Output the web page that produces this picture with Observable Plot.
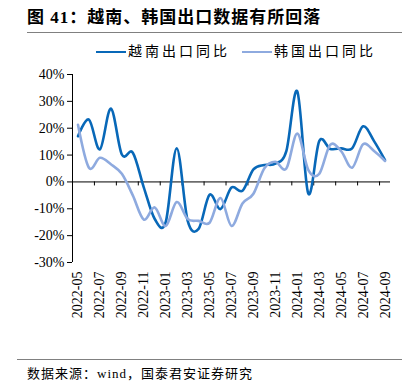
<!DOCTYPE html>
<html><head><meta charset="utf-8">
<script src="https://cdn.jsdelivr.net/npm/d3@7"></script>
<script src="https://cdn.jsdelivr.net/npm/@observablehq/plot@0.6"></script>
<style>
body{margin:0;background:#fff;}
#wrap{position:relative;width:415px;height:388px;overflow:hidden;font-family:"Liberation Serif","Noto Sans CJK SC",serif;color:#000;}
#title{position:absolute;left:27px;top:8px;font-size:17px;font-weight:bold;letter-spacing:1px;line-height:20px;white-space:nowrap;}
.rule{position:absolute;height:0;border-top:1px solid #808080;}
#legend{position:absolute;top:44px;left:96px;font-size:14px;line-height:16px;white-space:nowrap;display:flex;}
.item{display:flex;align-items:center;letter-spacing:3px;}
.sw{display:inline-block;width:30px;height:0;border-top:2.5px solid;margin-right:2px;}
#chart{position:absolute;left:0;top:62px;}
#source{position:absolute;left:27px;top:366px;font-size:13px;letter-spacing:1px;line-height:16px;white-space:nowrap;}
</style>
</head><body>
<div id="wrap">
  <div id="title">图 41：越南、韩国出口数据有所回落</div>
  <div class="rule" style="left:27px;top:32px;width:375px;"></div>
  <div id="legend"></div>
  <div id="chart"></div>
  <div class="rule" style="left:17px;top:359px;width:385px;"></div>
  <div id="source">数据来源：wind，国泰君安证券研究</div>
</div>
<script>
const months = ["2022-05","2022-06","2022-07","2022-08","2022-09","2022-10","2022-11","2022-12",
  "2023-01","2023-02","2023-03","2023-04","2023-05","2023-06","2023-07","2023-08","2023-09","2023-10","2023-11","2023-12",
  "2024-01","2024-02","2024-03","2024-04","2024-05","2024-06","2024-07","2024-08","2024-09"];
const vietnam = [17.0, 23.2, 12.1, 27.3, 10.2, 10.9, -2.0, -13.8, -15.0, 12.5, -14.4, -17.5, -4.8, -10.1, -2.1,
  -3.3, 4.7, 6.3, 6.8, 11.5, 33.7, -4.3, 15.2, 12.3, 12.5, 12.5, 20.7, 15.2, 8.1];
const korea = [21.3, 5.3, 9.0, 6.6, 3.0, -5.0, -14.0, -9.5, -16.4, -7.5, -13.8, -14.5, -15.2, -6.0, -16.4,
  -8.0, -4.4, 5.1, 7.5, 5.0, 18.0, 4.5, 3.0, 13.8, 11.5, 5.3, 14.0, 11.5, 7.8];
const seriesNames = ["越南出口同比", "韩国出口同比"];
const seriesColors = ["#0868b8", "#8eaadf"];
const yTicks = [-30, -20, -10, 0, 10, 20, 30, 40];

const rows = months.map((m, i) => ({i, m, vn: vietnam[i], kr: korea[i]}));
const xDomain = [-0.5, months.length - 0.5];
const labelIdx = d3.range(0, months.length, 2);
const boundaries = d3.range(-0.5, months.length - 1, 2);

// legend
const legend = document.getElementById("legend");
seriesNames.forEach((name, k) => {
  const it = document.createElement("span");
  it.className = "item";
  it.style.marginRight = k === 0 ? "12px" : "0";
  it.innerHTML = `<span class="sw" style="border-color:${seriesColors[k]}"></span><span>${name}</span>`;
  legend.appendChild(it);
});

const chart = Plot.plot({
  width: 415,
  height: 270,
  marginLeft: 72,
  marginRight: 25,
  marginTop: 12,
  marginBottom: 70,
  style: {fontSize: "14px", fontFamily: "Liberation Serif, serif", color: "#000", background: "#fff"},
  x: {type: "linear", domain: xDomain, ticks: labelIdx, tickFormat: i => months[i], tickRotate: -90, tickSize: 0, tickPadding: 9, label: null},
  y: {domain: [-30, 40], ticks: yTicks, tickFormat: d => d + "%", tickSize: 5, tickPadding: 3, label: null},
  marks: [
    Plot.ruleY([0], {stroke: "#000", strokeWidth: 1}),
    Plot.ruleX([xDomain[0]], {stroke: "#000", strokeWidth: 1}),
    Plot.ruleX(boundaries, {x: d => d, y1: () => 0, y2: () => 0, insetBottom: -4, stroke: "#000"}),
    Plot.line(rows, {x: "i", y: "vn", stroke: seriesColors[0], strokeWidth: 2.6, curve: "cardinal"}),
    Plot.line(rows, {x: "i", y: "kr", stroke: seriesColors[1], strokeWidth: 2.6, curve: "cardinal"})
  ]
});
document.getElementById("chart").appendChild(chart);
</script>
</body></html>
